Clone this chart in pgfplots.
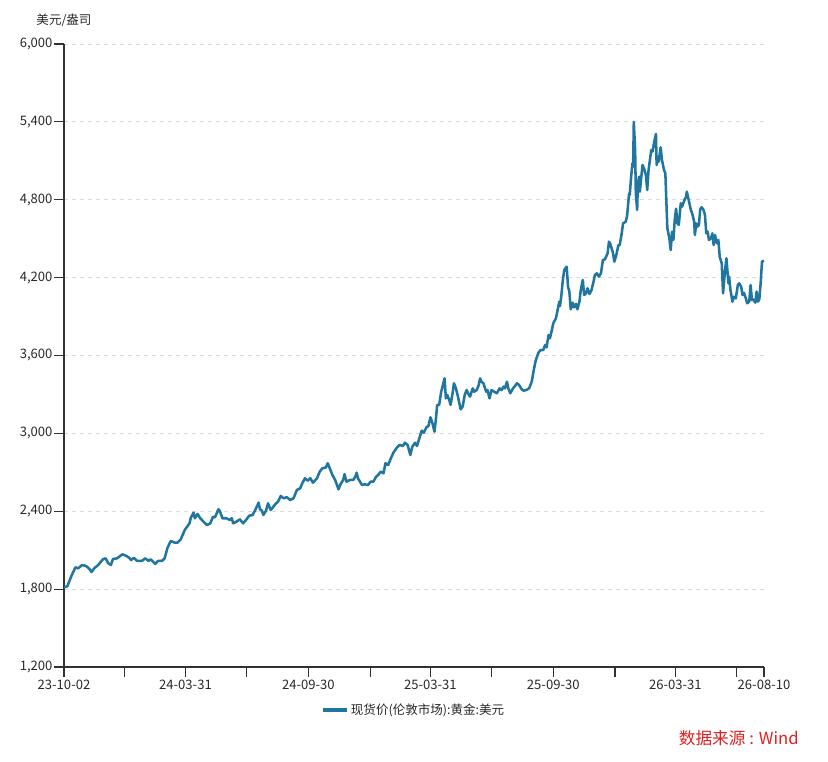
\documentclass[border=0pt]{standalone}
\usepackage{fontspec}
\setmainfont{Noto Sans CJK SC}
\usepackage{pgfplots}
\pgfplotsset{compat=1.18}
\definecolor{goldline}{RGB}{33,118,160}
\definecolor{gridc}{RGB}{218,218,218}
\definecolor{axc}{RGB}{50,50,50}
\definecolor{txtc}{RGB}{40,40,40}
\definecolor{srcred}{RGB}{222,32,32}
\begin{document}
\begin{tikzpicture}
\path[use as bounding box] (-48pt,-71.25pt) rectangle (573pt,500.25pt);
\begin{axis}[at={(0pt,0pt)}, anchor=south west, scale only axis,
  width=525pt, height=467.25pt,
  xmin=0, xmax=1043, ymin=1200, ymax=6000,
  axis lines*=left,
  axis line style={axc, line width=0.8pt},
  ytick={1200,1800,...,6000},
  xtick={0,90,181,272,364,456,546,637,729,821,911,1002,1043},
  xticklabels={23-10-02,,24-03-31,,24-09-30,,25-03-31,,25-09-30,,26-03-31,,26-08-10},
  tick align=outside,
  major tick length=7.5pt,
  tick style={axc, line width=0.8pt},
  ymajorgrids,
  grid style={gridc, dash pattern=on 3pt off 3pt, line width=0.6pt},
  /pgf/number format/assume math mode=true,
  /pgf/number format/1000 sep={,},
  /pgf/number format/fixed,
  ticklabel style={font=\fontsize{9.8}{11}\selectfont, text=txtc},
  yticklabel style={inner sep=1pt},
  xticklabel style={inner sep=2pt},
  legend style={at={(0.5,-0.069)}, anchor=center, draw=none, fill=none,
    font=\fontsize{9.4}{11}\selectfont, text=txtc},
  legend image code/.code={\draw[line width=2.4pt] (0pt,0pt) -- (18pt,0pt);},
  clip=false,
]
\addplot[goldline, line width=1.9pt, line join=round] coordinates {
(0,1815) (5,1822) (11,1901) (17,1968) (21,1960) (27,1986) (33,1978) (38,1955) (41,1932) (45,1960) (51,1986) (58,2030) (62,2037) (66,1999) (70,1986) (73,2032) (79,2037) (87,2068) (92,2058) (97,2042) (100,2024) (104,2042) (109,2017) (116,2017) (121,2037) (126,2017) (129,2030) (136,1994) (140,2017) (146,2017) (150,2037) (154,2115) (159,2171) (165,2158) (169,2158) (174,2184) (180,2256) (187,2307) (189,2350) (193,2389) (195,2346) (199,2379) (203,2346) (207,2325) (213,2294) (218,2307) (222,2358) (225,2353) (230,2415) (232,2404) (236,2346) (242,2346) (247,2333) (250,2346) (252,2307) (257,2320) (262,2338) (267,2307) (272,2338) (276,2366) (281,2371) (285,2410) (290,2466) (292,2415) (295,2404) (297,2371) (301,2404) (304,2461) (308,2410) (312,2435) (316,2461) (319,2474) (323,2518) (327,2500) (332,2508) (337,2487) (342,2500) (347,2564) (352,2577) (355,2615) (359,2654) (363,2636) (367,2654) (371,2620) (377,2654) (381,2705) (385,2731) (390,2736) (393,2770) (396,2731) (400,2679) (404,2641) (409,2569) (412,2608) (416,2641) (418,2685) (421,2628) (426,2641) (431,2641) (434,2666) (436,2697) (438,2654) (444,2602) (448,2608) (453,2602) (457,2628) (461,2628) (465,2666) (468,2679) (472,2705) (476,2692) (479,2770) (483,2756) (487,2808) (491,2853) (496,2890) (500,2911) (505,2903) (508,2928) (512,2911) (516,2833) (519,2897) (523,2928) (526,2903) (529,2954) (533,3021) (536,3005) (540,3047) (543,3057) (546,3124) (549,3078) (552,3013) (554,3103) (556,3219) (559,3219) (562,3321) (564,3360) (567,3424) (569,3270) (571,3296) (574,3257) (576,3219) (579,3309) (581,3386) (584,3347) (587,3283) (591,3185) (594,3206) (597,3296) (600,3334) (602,3309) (605,3283) (609,3347) (611,3321) (615,3334) (618,3373) (620,3424) (622,3398) (625,3386) (629,3321) (631,3334) (634,3270) (637,3334) (641,3321) (645,3309) (649,3347) (652,3334) (655,3360) (657,3347) (660,3398) (662,3347) (665,3309) (669,3347) (672,3365) (675,3386) (678,3373) (682,3339) (685,3329) (689,3334) (693,3347) (697,3400) (700,3490) (703,3565) (707,3622) (710,3642) (714,3642) (717,3681) (719,3663) (722,3758) (724,3732) (727,3797) (729,3848) (733,3887) (736,3964) (738,4015) (739,3981) (741,4059) (743,4169) (745,4246) (746,4264) (749,4284) (751,4130) (753,4092) (755,3956) (758,4007) (760,3971) (763,3997) (765,3956) (768,4015) (770,4105) (773,4182) (775,4066) (778,4079) (780,4118) (783,4074) (786,4105) (789,4169) (791,4220) (794,4233) (797,4207) (800,4233) (803,4336) (806,4341) (810,4387) (812,4477) (814,4460) (818,4390) (820,4323) (823,4375) (826,4451) (828,4450) (831,4541) (833,4618) (837,4631) (839,4675) (842,4849) (843,4837) (845,4978) (847,5081) (848,5055) (849,5400) (851,5183) (852,4849) (854,4721) (855,4927) (857,4978) (858,4862) (860,4965) (862,5068) (865,5029) (867,4991) (869,4875) (871,5029) (873,5106) (875,5183) (877,5171) (879,5235) (882,5307) (883,5068) (885,5132) (886,5093) (889,5204) (891,5106) (894,5029) (896,5003) (898,4721) (899,4580) (902,4503) (904,4413) (906,4554) (908,4490) (910,4644) (912,4731) (914,4618) (916,4606) (919,4773) (921,4747) (924,4793) (927,4824) (928,4862) (931,4793) (934,4721) (936,4695) (939,4631) (940,4528) (942,4618) (944,4593) (946,4606) (948,4727) (950,4742) (953,4721) (955,4683) (957,4541) (959,4554) (961,4490) (964,4503) (966,4541) (968,4451) (970,4528) (973,4464) (975,4490) (977,4361) (980,4310) (982,4079) (985,4259) (987,4349) (990,4156) (991,4207) (993,4105) (996,4015) (998,4053) (1001,4040) (1004,4143) (1006,4156) (1009,4130) (1011,4066) (1013,4084) (1016,4040) (1018,4002) (1021,4015) (1023,4143) (1025,4027) (1027,4033) (1030,4007) (1032,4092) (1034,4015) (1036,4033) (1038,4156) (1040,4323) (1043,4330)
};
\addlegendentry{现货价(伦敦市场):黄金:美元}
\node[font=\fontsize{9.4}{11}\selectfont, text=txtc, anchor=center] at ([yshift=18pt]axis description cs:0,1) {美元/盎司};
\node[font=\fontsize{12.5}{14}\selectfont, text=srcred, anchor=east] at ([xshift=29.5pt,yshift=-53.25pt]axis description cs:1,0) {数据来源 : Wind};
\end{axis}
\end{tikzpicture}
\end{document}
